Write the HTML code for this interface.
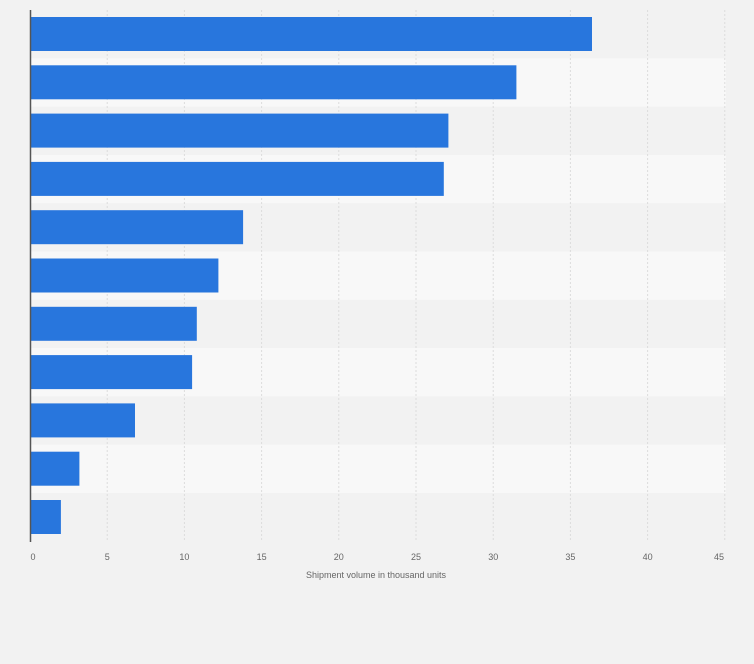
<!DOCTYPE html><html><head><style>body{margin:0;background:#f2f2f2}</style></head><body>
<svg width="754" height="659" xmlns="http://www.w3.org/2000/svg" font-family="Liberation Sans,sans-serif">
<rect width="754" height="659" fill="#f2f2f2"/>
<g fill="#f8f8f8">
<rect x="30" y="58.3" width="696" height="48.3"/>
<rect x="30" y="154.9" width="696" height="48.3"/>
<rect x="30" y="251.5" width="696" height="48.3"/>
<rect x="30" y="348.1" width="696" height="48.3"/>
<rect x="30" y="444.7" width="696" height="48.3"/>
</g>
<g stroke="#dcdcdc" stroke-dasharray="2,2">
<line x1="107.2" y1="10" x2="107.2" y2="542"/>
<line x1="184.4" y1="10" x2="184.4" y2="542"/>
<line x1="261.6" y1="10" x2="261.6" y2="542"/>
<line x1="338.8" y1="10" x2="338.8" y2="542"/>
<line x1="416" y1="10" x2="416" y2="542"/>
<line x1="493.2" y1="10" x2="493.2" y2="542"/>
<line x1="570.4" y1="10" x2="570.4" y2="542"/>
<line x1="647.6" y1="10" x2="647.6" y2="542"/>
<line x1="724.8" y1="10" x2="724.8" y2="542"/>
</g>
<g fill="#2876dd">
<rect x="30" y="17" width="562" height="34"/>
<rect x="30" y="65.3" width="486.4" height="34"/>
<rect x="30" y="113.6" width="418.4" height="34"/>
<rect x="30" y="161.9" width="413.8" height="34"/>
<rect x="30" y="210.2" width="213.1" height="34"/>
<rect x="30" y="258.5" width="188.4" height="34"/>
<rect x="30" y="306.8" width="166.8" height="34"/>
<rect x="30" y="355.1" width="162.1" height="34"/>
<rect x="30" y="403.4" width="105" height="34"/>
<rect x="30" y="451.7" width="49.4" height="34"/>
<rect x="30" y="500" width="30.9" height="34"/>
</g>
<line x1="30.5" y1="10" x2="30.5" y2="542" stroke="#555" stroke-width="1.5"/>
<g font-size="9" fill="#666" text-anchor="middle">
<text x="33" y="560">0</text>
<text x="107.2" y="560">5</text>
<text x="184.4" y="560">10</text>
<text x="261.6" y="560">15</text>
<text x="338.8" y="560">20</text>
<text x="416" y="560">25</text>
<text x="493.2" y="560">30</text>
<text x="570.4" y="560">35</text>
<text x="647.6" y="560">40</text>
<text x="719" y="560">45</text>
<text x="376" y="578">Shipment volume in thousand units</text>
</g>
</svg></body></html>
